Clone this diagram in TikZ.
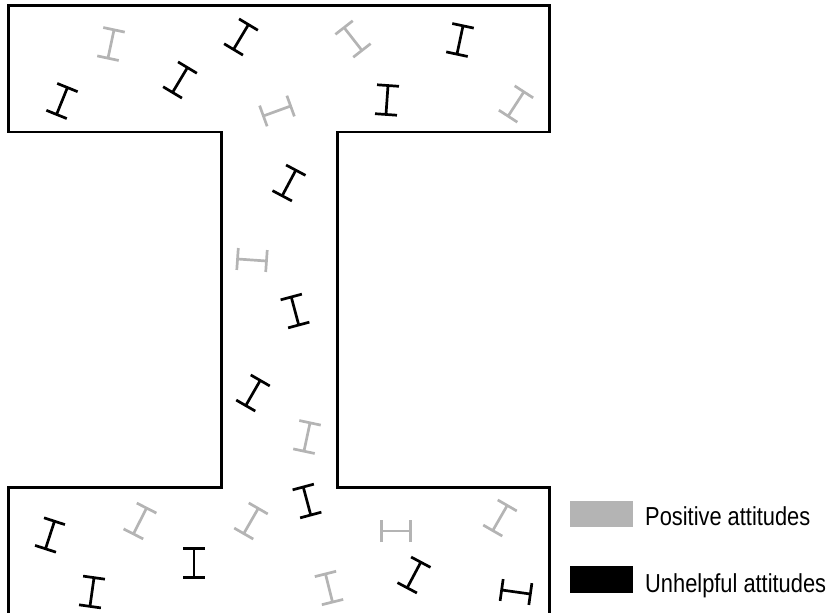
\documentclass[tikz,border=0pt]{standalone}
\usepackage{fontspec}
\newfontfamily\legendfont[FakeStretch=0.84]{Liberation Sans}
\definecolor{posgray}{RGB}{180,180,180}
\definecolor{negblack}{RGB}{0,0,0}
\tikzset{
  ibeam/.pic={
    \draw[pic actions, line width=2.7pt, line cap=butt]
      (-11,-14.5) -- (11,-14.5)
      (0,-14.5) -- (0,14.5)
      (-11,14.5) -- (11,14.5);
  },
  posbeam/.style={draw=posgray},
  negbeam/.style={draw=negblack},
  outline/.style={line width=2.4pt, draw=black, line join=miter},
  legendtext/.style={anchor=base west, inner sep=0pt, font=\legendfont\fontsize{26}{30}\selectfont},
}
\begin{document}
\begin{tikzpicture}[x=1pt,y=-1pt]
\useasboundingbox (0,0) rectangle (830,613);
% beam outline
\draw[outline] (8.5,620) -- (8.5,487.5) -- (221.5,487.5) -- (221.5,132) -- (8.5,132) -- (8.5,5.5)
  -- (549.5,5.5) -- (549.5,132) -- (337.5,132) -- (337.5,487.5) -- (549.5,487.5) -- (549.5,620);
% top flange
\pic[posbeam, rotate=-12] at (111,44) {ibeam};
\pic[negbeam, rotate=-22] at (62,101) {ibeam};
\pic[negbeam, rotate=-31] at (180,80) {ibeam};
\pic[negbeam, rotate=-31] at (241,37) {ibeam};
\pic[posbeam, rotate=38] at (353,39) {ibeam};
\pic[negbeam, rotate=-12] at (460,40) {ibeam};
\pic[negbeam, rotate=-4] at (387,100) {ibeam};
\pic[posbeam, rotate=-33] at (516,104) {ibeam};
\pic[posbeam, rotate=-70] at (277,111) {ibeam};
% web
\pic[negbeam, rotate=-28] at (289,183) {ibeam};
\pic[posbeam, rotate=-94] at (252,260) {ibeam};
\pic[negbeam, rotate=15] at (295,311) {ibeam};
\pic[negbeam, rotate=-30] at (253,393) {ibeam};
\pic[posbeam, rotate=-12] at (307,437) {ibeam};
% bottom flange
\pic[negbeam, rotate=15] at (307,501) {ibeam};
\pic[posbeam, rotate=90] at (396,531) {ibeam};
\pic[posbeam, rotate=-30] at (500,518) {ibeam};
\pic[negbeam, rotate=-28] at (414,575) {ibeam};
\pic[posbeam, rotate=14] at (329,588) {ibeam};
\pic[negbeam, rotate=-98] at (516,592) {ibeam};
\pic[negbeam, rotate=-18] at (50,535) {ibeam};
\pic[posbeam, rotate=-27] at (140,521) {ibeam};
\pic[posbeam, rotate=-30] at (251,521) {ibeam};
\pic[negbeam, rotate=0] at (194,563) {ibeam};
\pic[negbeam, rotate=-8] at (92,592) {ibeam};
% legend
\fill[posgray] (570,501) rectangle (633,527);
\fill[negblack] (570,566) rectangle (633,593);
\node[legendtext] (poslabel) at (645,525) {Positive attitudes};
\node[legendtext] (neglabel) at (645,592) {Unhelpful attitudes};
\end{tikzpicture}
\end{document}
